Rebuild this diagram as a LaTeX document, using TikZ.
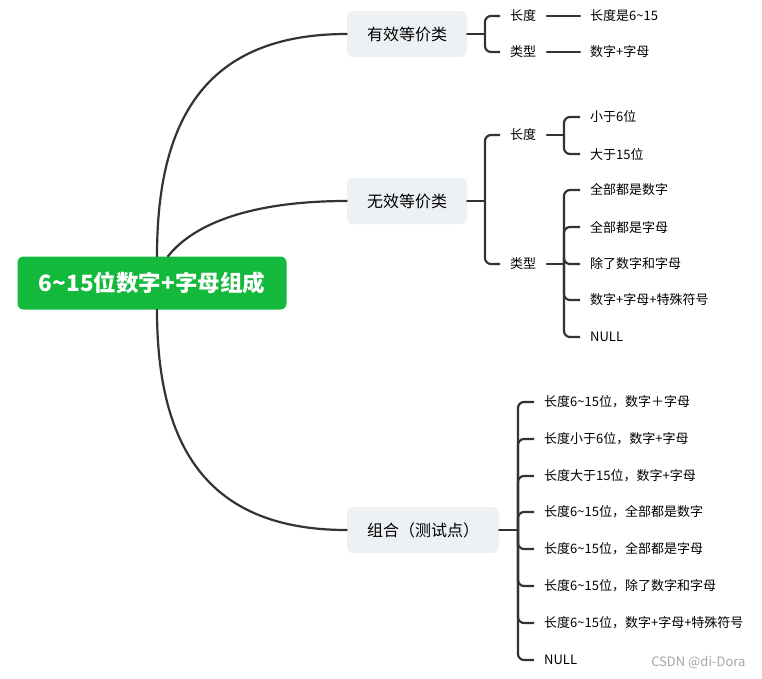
\documentclass[tikz,border=0pt]{standalone}
\usepackage{fontspec}
\setmainfont{Noto Sans CJK SC}
\usetikzlibrary{positioning, calc}
\definecolor{mmgreen}{RGB}{18,185,58}
\definecolor{mmgray}{RGB}{238,241,244}
\definecolor{mmline}{RGB}{51,51,51}
\definecolor{mmmark}{RGB}{165,165,165}

\begin{document}
\begin{tikzpicture}[
  x=1pt, y=-1pt,
  rootbox/.style={rounded corners=6pt, fill=mmgreen, text=white,
    minimum width=269pt, minimum height=53pt, font=\fontsize{22.5}{26}\selectfont\bfseries},
  topic/.style={rounded corners=6pt, fill=mmgray, minimum height=46pt,
    font=\fontsize{16}{19}\selectfont},
  sub/.style={anchor=west, inner xsep=10pt, font=\fontsize{13}{16}\selectfont},
  link/.style={draw=mmline, line width=2.2pt, line cap=round},
  brace/.style={draw=mmline, line width=2.2pt, rounded corners=6pt}
]
  \useasboundingbox (0,0) rectangle (762,678);

  % root and main topics
  \node[rootbox] (root) at (152,283) {6\textasciitilde15位数字+字母组成};
  \node[topic, minimum width=120pt] (valid)   at (407,34)  {有效等价类};
  \node[topic, minimum width=120pt] (invalid) at (407,201) {无效等价类};
  \node[topic, minimum width=152pt] (combo)   at (423,530) {组合（测试点）};

  \coordinate (r1) at ($(root.north)+(5,0)$);
  \coordinate (r2) at ($(root.north)+(16,0)$);
  \coordinate (r3) at ($(root.south)+(5,0)$);
  \draw[link] (r1) .. controls (157,120) and (205,34) .. (valid.west);
  \draw[link] (r2) .. controls (195,222) and (255,201) .. (invalid.west);
  \draw[link] (r3) .. controls (157,450) and (210,530) .. (combo.west);

  % valid classes
  \node[sub] (vlen)  at (500,16) {长度};
  \node[sub] (vtype) at (500,52) {类型};
  \node[sub] (vlen1)  at (580,16) {长度是6\textasciitilde15};
  \node[sub] (vtype1) at (580,52) {数字+字母};
  \draw[link] (valid.east) -- (485,34);
  \draw[brace] (485,34) |- (vlen.west);
  \draw[brace] (485,34) |- (vtype.west);
  \draw[link] (547,16) -- (vlen1.west);
  \draw[link] (547,52) -- (vtype1.west);

  % invalid classes
  \node[sub] (ilen)  at (500,135) {长度};
  \node[sub] (itype) at (500,264) {类型};
  \draw[link] (invalid.east) -- (485,201);
  \draw[brace] (485,201) |- (ilen.west);
  \draw[brace] (485,201) |- (itype.west);

  \node[sub] (ilen1) at (580,117) {小于6位};
  \node[sub] (ilen2) at (580,154) {大于15位};
  \draw[link] (547,135) -- (564,135);
  \foreach \n in {ilen1, ilen2}
    \draw[brace] (564,135) |- (\n.west);

  \node[sub] (ity1) at (580,190) {全部都是数字};
  \node[sub] (ity2) at (580,227) {全部都是字母};
  \node[sub] (ity3) at (580,264) {除了数字和字母};
  \node[sub] (ity4) at (580,300) {数字+字母+特殊符号};
  \node[sub] (ity5) at (580,337) {NULL};
  \draw[link] (547,264) -- (564,264);
  \foreach \n in {ity1, ity2, ity3, ity4, ity5}
    \draw[brace] (564,264) |- (\n.west);

  % combinations
  \node[sub] (c1) at (534,402) {长度6\textasciitilde15位，数字＋字母};
  \node[sub] (c2) at (534,439) {长度小于6位，数字+字母};
  \node[sub] (c3) at (534,476) {长度大于15位，数字+字母};
  \node[sub] (c4) at (534,512) {长度6\textasciitilde15位，全部都是数字};
  \node[sub] (c5) at (534,549) {长度6\textasciitilde15位，全部都是字母};
  \node[sub] (c6) at (534,586) {长度6\textasciitilde15位，除了数字和字母};
  \node[sub] (c7) at (534,623) {长度6\textasciitilde15位，数字+字母+特殊符号};
  \node[sub] (c8) at (534,660) {NULL};
  \draw[link] (combo.east) -- (518,530);
  \foreach \n in {c1, c2, c3, c4, c5, c6, c7, c8}
    \draw[brace] (518,530) |- (\n.west);

  \node[text=mmmark, anchor=east, font=\fontsize{13}{15}\selectfont] (mark) at (749,662) {CSDN @di-Dora};
\end{tikzpicture}
\end{document}
